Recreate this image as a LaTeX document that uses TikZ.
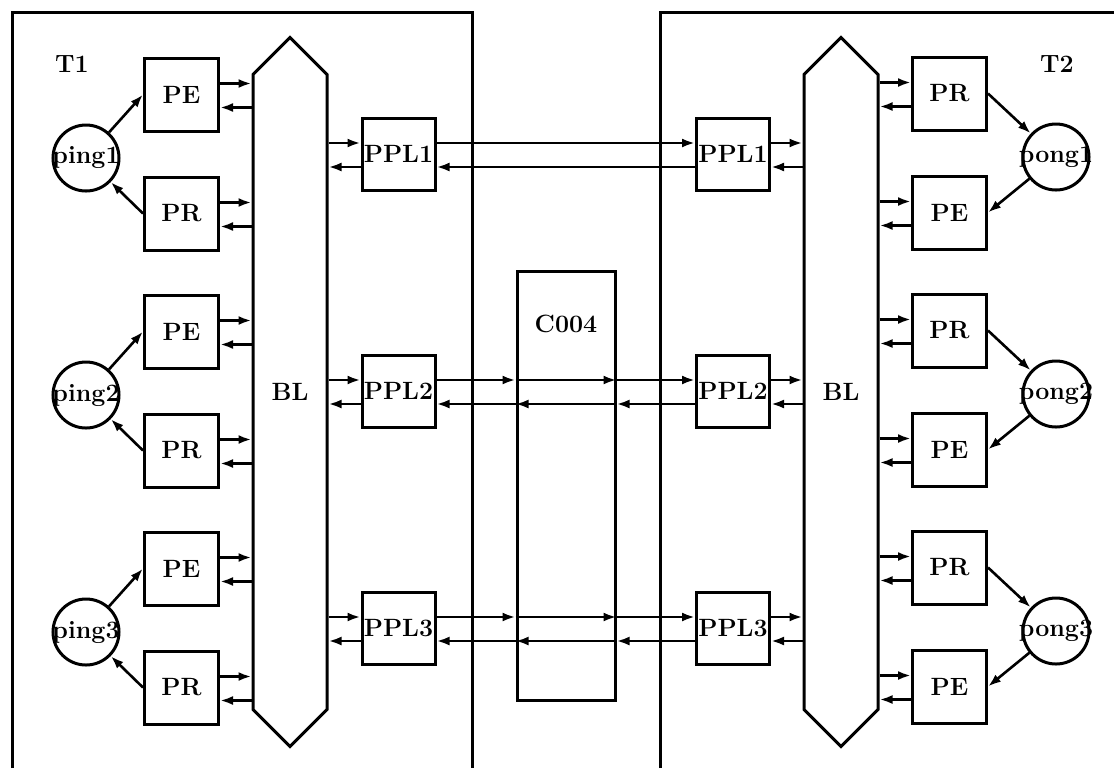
\documentclass[tikz,border=0pt]{standalone}
\usepackage{amsmath,amssymb}
\usetikzlibrary{arrows.meta,calc,shapes.symbols}

\tikzset{
  unit/.style={draw,line width=1.5pt,minimum width=37pt,minimum height=36.5pt,inner sep=0pt},
  link/.style={draw,line width=1.5pt,minimum width=36.5pt,minimum height=36pt,inner sep=0pt},
  proc/.style={circle,draw,line width=1.5pt,minimum size=33pt,inner sep=-4.5pt},
  bus/.style={signal,signal to=north and south,signal pointer angle=90,draw,line width=1.5pt,
    minimum width=37pt,minimum height=336pt,inner sep=0pt},
  msg/.style={->,line width=1.3pt},
}

\begin{document}
\begin{tikzpicture}[x=0.5pt,y=-0.5pt,>={Latex[length=6.5pt,width=4.5pt]},
  every node/.style={font=\fontsize{12.5}{15}\selectfont\bfseries}]
\useasboundingbox (0,0) rectangle (1114,768);
% transputer boards
\draw[line width=1.5pt] (12,768) -- (12,12) -- (472,12) -- (472,768);
\draw[line width=1.5pt] (660,768) -- (660,12) -- (1114,12);
\node (T1) at (72,64) {T1};
\node (T2) at (1057,64) {T2};
% link chip in the middle
\node[draw,line width=1.5pt,minimum width=49pt,minimum height=214.5pt] (C004) at (566,485.5) {};
\node (C004t) at (566,324) {C004};
% buses
\node[bus] (BLa) at (290,392) {BL};
\node[bus] (BLb) at (841,392) {BL};
\foreach \i/\y in {1/0,2/237,3/474} {
  \node[unit] (PEa\i) at (181.5,94.5+\y) {PE};
  \node[unit] (PRa\i) at (181.5,213.5+\y) {PR};
  \node[proc] (ping\i) at (86,158+\y) {ping\i};
  \node[link] (PPLa\i) at (398.5,154+\y) {PPL\i};
  \node[link] (PPLb\i) at (733,154+\y) {PPL\i};
  \node[unit] (PRb\i) at (949.5,93.5+\y) {PR};
  \node[unit] (PEb\i) at (949.5,212.5+\y) {PE};
  \node[proc] (pong\i) at (1056,157+\y) {pong\i};
  % processes to their channels
  \draw[msg] (ping\i) -- (PEa\i.west);
  \draw[msg] (PRa\i.west) -- (ping\i);
  \draw[msg] (PRb\i.east) -- (pong\i);
  \draw[msg] (pong\i) -- (PEb\i.east);
  % to and from the buses
  \foreach \b in {PEa\i,PRa\i} {
    \draw[msg] ([yshift=5.5pt]\b.east) -- ([yshift=5.5pt]\b.east -| BLa.west);
    \draw[msg] ([yshift=-6.5pt]\b.east -| BLa.west) -- ([yshift=-6.5pt]\b.east);
  }
  \foreach \b in {PRb\i,PEb\i} {
    \draw[msg] ([yshift=5.5pt]\b.west -| BLb.east) -- ([yshift=5.5pt]\b.west);
    \draw[msg] ([yshift=-6.5pt]\b.west) -- ([yshift=-6.5pt]\b.west -| BLb.east);
  }
  \draw[msg] ([yshift=5.5pt]PPLa\i.west -| BLa.east) -- ([yshift=5.5pt]PPLa\i.west);
  \draw[msg] ([yshift=-6.5pt]PPLa\i.west) -- ([yshift=-6.5pt]PPLa\i.west -| BLa.east);
  \draw[msg] ([yshift=5.5pt]PPLb\i.east) -- ([yshift=5.5pt]PPLb\i.east -| BLb.west);
  \draw[msg] ([yshift=-6.5pt]PPLb\i.east -| BLb.west) -- ([yshift=-6.5pt]PPLb\i.east);
}
% links between the boards
\draw[msg] ([yshift=5.5pt]PPLa1.east) -- ([yshift=5.5pt]PPLb1.west);
\draw[msg] ([yshift=-6.5pt]PPLb1.west) -- ([yshift=-6.5pt]PPLa1.east);
\foreach \i in {2,3} {
  \draw[msg] ([yshift=5.5pt]PPLa\i.east) -- ([yshift=5.5pt]PPLa\i.east -| C004.west);
  \draw[msg] ([yshift=5.5pt]PPLa\i.east -| C004.west) -- ([yshift=5.5pt]PPLa\i.east -| C004.east);
  \draw[msg] ([yshift=5.5pt]PPLa\i.east -| C004.east) -- ([yshift=5.5pt]PPLb\i.west);
  \draw[msg] ([yshift=-6.5pt]PPLb\i.west) -- ([yshift=-6.5pt]PPLb\i.west -| C004.east);
  \draw[msg] ([yshift=-6.5pt]PPLb\i.west -| C004.east) -- ([yshift=-6.5pt]PPLb\i.west -| C004.west);
  \draw[msg] ([yshift=-6.5pt]PPLb\i.west -| C004.west) -- ([yshift=-6.5pt]PPLa\i.east);
}
\end{tikzpicture}
\end{document}
